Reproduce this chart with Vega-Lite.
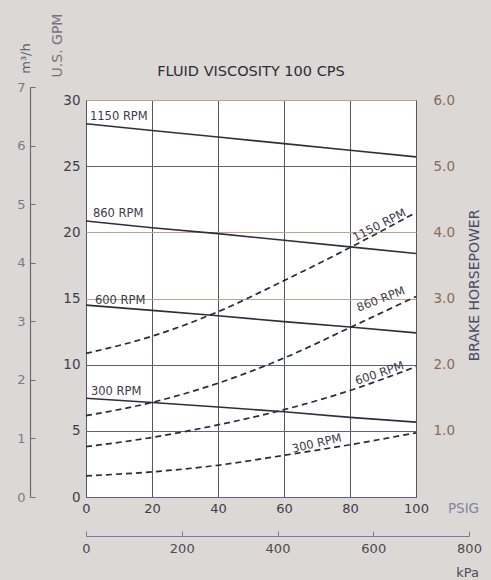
{
  "$schema": "https://vega.github.io/schema/vega-lite/v6.json",
  "width": 330,
  "height": 397,
  "autosize": {"type": "none"},
  "padding": {"left": 86, "top": 100, "right": 75, "bottom": 83},
  "background": "#dcd8d5",
  "config": {
    "font": "DejaVu Sans",
    "view": {"fill": "white", "stroke": "#5e5e70", "strokeWidth": 1},
    "axis": {"labelFont": "DejaVu Sans", "titleFont": "DejaVu Sans", "titleFontWeight": "normal", "labelFontSize": 13, "titleFontSize": 13}
  },
  "title": {"text": "FLUID VISCOSITY 100 CPS", "fontSize": 14.5, "fontWeight": "normal", "color": "#2d2d35", "offset": 22, "dy": 88, "anchor": "middle"},
  "datasets": {
    "flow": [
      {"rpm": 1150, "psi": 0, "gpm": 28.2}, {"rpm": 1150, "psi": 20, "gpm": 27.7}, {"rpm": 1150, "psi": 40, "gpm": 27.2}, {"rpm": 1150, "psi": 60, "gpm": 26.7}, {"rpm": 1150, "psi": 80, "gpm": 26.2}, {"rpm": 1150, "psi": 100, "gpm": 25.7},
      {"rpm": 860, "psi": 0, "gpm": 20.86}, {"rpm": 860, "psi": 20, "gpm": 20.35}, {"rpm": 860, "psi": 40, "gpm": 19.9}, {"rpm": 860, "psi": 60, "gpm": 19.4}, {"rpm": 860, "psi": 80, "gpm": 18.9}, {"rpm": 860, "psi": 100, "gpm": 18.4},
      {"rpm": 600, "psi": 0, "gpm": 14.5}, {"rpm": 600, "psi": 20, "gpm": 14.1}, {"rpm": 600, "psi": 40, "gpm": 13.7}, {"rpm": 600, "psi": 60, "gpm": 13.25}, {"rpm": 600, "psi": 80, "gpm": 12.85}, {"rpm": 600, "psi": 100, "gpm": 12.4},
      {"rpm": 300, "psi": 0, "gpm": 7.46}, {"rpm": 300, "psi": 20, "gpm": 7.14}, {"rpm": 300, "psi": 40, "gpm": 6.8}, {"rpm": 300, "psi": 60, "gpm": 6.44}, {"rpm": 300, "psi": 80, "gpm": 6.02}, {"rpm": 300, "psi": 100, "gpm": 5.66}
    ],
    "power": [
      {"rpm": 1150, "psi": 0, "bhp": 2.17}, {"rpm": 1150, "psi": 20, "bhp": 2.43}, {"rpm": 1150, "psi": 40, "bhp": 2.8}, {"rpm": 1150, "psi": 60, "bhp": 3.27}, {"rpm": 1150, "psi": 80, "bhp": 3.77}, {"rpm": 1150, "psi": 100, "bhp": 4.3},
      {"rpm": 860, "psi": 0, "bhp": 1.23}, {"rpm": 860, "psi": 20, "bhp": 1.43}, {"rpm": 860, "psi": 40, "bhp": 1.72}, {"rpm": 860, "psi": 60, "bhp": 2.1}, {"rpm": 860, "psi": 80, "bhp": 2.56}, {"rpm": 860, "psi": 100, "bhp": 3.03},
      {"rpm": 600, "psi": 0, "bhp": 0.76}, {"rpm": 600, "psi": 20, "bhp": 0.9}, {"rpm": 600, "psi": 40, "bhp": 1.09}, {"rpm": 600, "psi": 60, "bhp": 1.32}, {"rpm": 600, "psi": 80, "bhp": 1.61}, {"rpm": 600, "psi": 100, "bhp": 1.97},
      {"rpm": 300, "psi": 0, "bhp": 0.32}, {"rpm": 300, "psi": 20, "bhp": 0.38}, {"rpm": 300, "psi": 40, "bhp": 0.48}, {"rpm": 300, "psi": 60, "bhp": 0.63}, {"rpm": 300, "psi": 80, "bhp": 0.79}, {"rpm": 300, "psi": 100, "bhp": 0.97}
    ],
    "flowLabels": [
      {"rpm": 1150, "label": "1150 RPM", "psi": 1.2, "gpm": 28.7},
      {"rpm": 860, "label": "860 RPM", "psi": 2.1, "gpm": 21.36},
      {"rpm": 600, "label": "600 RPM", "psi": 2.7, "gpm": 14.8},
      {"rpm": 300, "label": "300 RPM", "psi": 1.5, "gpm": 7.9}
    ],
    "powerLabels": [
      {"rpm": 1150, "label": "1150 RPM", "psi": 89, "bhp": 4.1},
      {"rpm": 860, "label": "860 RPM", "psi": 89.4, "bhp": 2.98},
      {"rpm": 600, "label": "600 RPM", "psi": 89, "bhp": 1.86},
      {"rpm": 300, "label": "300 RPM", "psi": 70, "bhp": 0.8}
    ],
    "m3h": [{"m3h": 0}, {"m3h": 7}],
    "kpa": [{"kpa": 0}, {"kpa": 800}]
  },
  "layer": [
    {
      "encoding": {
        "x": {"field": "psi", "type": "quantitative", "scale": {"domain": [0, 100], "nice": false},
          "axis": {"values": [0, 20, 40, 60, 80, 100], "grid": true, "gridColor": "#55556a", "gridOpacity": 1, "ticks": false, "domain": false, "labelPadding": 5, "labelColor": "#3d3d4a", "labelFlush": false,
            "title": "PSIG", "titleColor": "#7f86a3", "titleFontSize": 13.5, "titleX": 377, "titleY": 11, "titleAlign": "center", "titleBaseline": "middle"}},
        "y": {"field": "gpm", "type": "quantitative", "scale": {"domain": [0, 30], "nice": false},
          "axis": {"values": [0, 5, 10, 15, 20, 25, 30], "grid": true, "gridOpacity": 1,
            "gridColor": {"condition": {"test": "datum.value === 15 || datum.value === 20 || datum.value === 30", "value": "#c4a088"}, "value": "#5d6088"},
            "ticks": false, "domain": false, "labelPadding": 6, "labelColor": "#3d3d50", "labelFontSize": 13.5,
            "title": "U.S. GPM", "titleColor": "#7b7080", "titleFontSize": 14, "titleAngle": 270, "titleX": -29, "titleY": -55, "titleAlign": "center", "titleBaseline": "middle"}}
      },
      "layer": [
        {"data": {"name": "flow"}, "mark": {"type": "line", "color": "#2e2e3e", "strokeWidth": 1.6}, "encoding": {"detail": {"field": "rpm", "type": "nominal"}}},
        {"data": {"name": "flowLabels"}, "mark": {"type": "text", "align": "left", "baseline": "middle", "fontSize": 11.5, "color": "#3b3b4a"}, "encoding": {"text": {"field": "label"}}}
      ]
    },
    {
      "encoding": {
        "x": {"field": "psi", "type": "quantitative", "scale": {"domain": [0, 100], "nice": false}, "axis": null},
        "y": {"field": "bhp", "type": "quantitative", "scale": {"domain": [0, 6], "nice": false},
          "axis": {"orient": "right", "values": [1, 2, 3, 4, 5, 6], "format": ".1f", "grid": false, "ticks": false, "domain": false, "labelPadding": 17, "labelColor": "#8c6a58", "labelFontSize": 13.5,
            "title": "BRAKE HORSEPOWER", "titleColor": "#4a4a66", "titleFontSize": 14, "titleAngle": 270, "titleX": 58, "titleY": 185, "titleAlign": "center", "titleBaseline": "middle"}}
      },
      "layer": [
        {"data": {"name": "power"}, "mark": {"type": "line", "color": "#2a2a38", "strokeWidth": 1.7, "strokeDash": [6, 4], "interpolate": "monotone"}, "encoding": {"detail": {"field": "rpm", "type": "nominal"}}},
        {"data": {"name": "powerLabels"}, "transform": [{"filter": "datum.rpm === 1150"}], "mark": {"type": "text", "angle": 333, "fontSize": 11.5, "color": "#3b3b4a"}, "encoding": {"text": {"field": "label"}}},
        {"data": {"name": "powerLabels"}, "transform": [{"filter": "datum.rpm === 860"}], "mark": {"type": "text", "angle": 339, "fontSize": 11.5, "color": "#3b3b4a"}, "encoding": {"text": {"field": "label"}}},
        {"data": {"name": "powerLabels"}, "transform": [{"filter": "datum.rpm === 600"}], "mark": {"type": "text", "angle": 341, "fontSize": 11.5, "color": "#3b3b4a"}, "encoding": {"text": {"field": "label"}}},
        {"data": {"name": "powerLabels"}, "transform": [{"filter": "datum.rpm === 300"}], "mark": {"type": "text", "angle": 347, "fontSize": 11.5, "color": "#3b3b4a"}, "encoding": {"text": {"field": "label"}}}
      ]
    },
    {
      "data": {"name": "m3h"},
      "mark": {"type": "rule", "opacity": 0},
      "encoding": {
        "y": {"field": "m3h", "type": "quantitative", "scale": {"domain": [0, 7], "range": [397, -13], "nice": false},
          "axis": {"orient": "left", "offset": 56, "values": [0, 1, 2, 3, 4, 5, 6, 7], "grid": false, "domain": true, "domainColor": "#6a6a78", "domainWidth": 1.2, "ticks": true, "tickSize": -5, "tickColor": "#6a6a78", "labelPadding": 10, "labelColor": "#7a7a85",
            "title": "m³/h", "titleColor": "#5a5a70", "titleAngle": 270, "titleX": -5, "titleY": -42, "titleAlign": "center", "titleBaseline": "middle"}}
      }
    },
    {
      "data": {"name": "kpa"},
      "mark": {"type": "rule", "opacity": 0},
      "encoding": {
        "x": {"field": "kpa", "type": "quantitative", "scale": {"domain": [0, 800], "range": [0, 383], "nice": false},
          "axis": {"orient": "bottom", "offset": 39, "values": [0, 200, 400, 600, 800], "grid": false, "domain": true, "domainColor": "#7a7aa0", "domainWidth": 1.2, "ticks": true, "tickSize": -5, "tickColor": "#7a7aa0", "labelPadding": 11, "labelColor": "#4a4a55", "labelFlush": false,
            "title": "kPa", "titleColor": "#4a4a55", "titleX": 381, "titleY": 36, "titleAlign": "center", "titleBaseline": "middle"}}
      }
    }
  ],
  "resolve": {"scale": {"x": "independent", "y": "independent"}}
}
